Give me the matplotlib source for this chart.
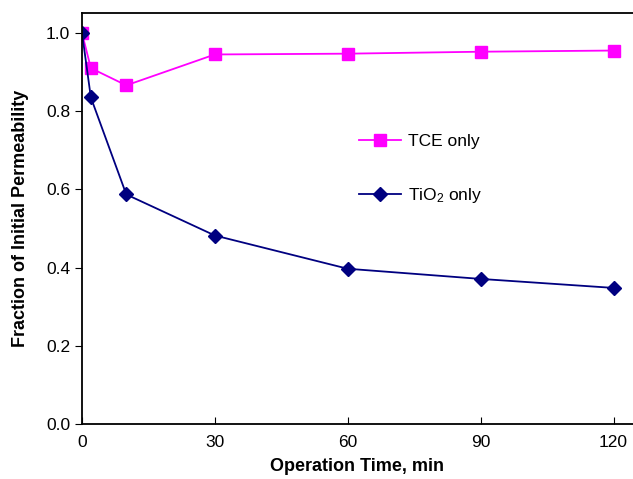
import matplotlib
matplotlib.use("Agg")
import matplotlib.pyplot as plt

plt.rcParams['font.family'] = ['Liberation Sans', 'DejaVu Sans']
plt.rcParams['mathtext.fontset'] = 'custom'
plt.rcParams['mathtext.rm'] = 'Liberation Sans'
plt.rcParams['mathtext.it'] = 'Liberation Sans'

# data
time_min = [0, 2, 10, 30, 60, 90, 120]
tce_only = [1.0, 0.91, 0.866, 0.945, 0.947, 0.952, 0.955]
tio2_only = [1.0, 0.835, 0.587, 0.482, 0.397, 0.371, 0.348]
xticks = [0, 30, 60, 90, 120]
yticks = [0.0, 0.2, 0.4, 0.6, 0.8, 1.0]

W, H = 633, 479
fig = plt.figure(figsize=(W / 100, H / 100), dpi=100)
ax = fig.add_axes([82 / W, (H - 424) / H, (W - 82) / W, (424 - 13) / H])

ax.plot(time_min, tce_only, color='#FF00FF', marker='s', markersize=8.5,
        linewidth=1.3, label='TCE only')
ax.plot(time_min, tio2_only, color='#000080', marker='D', markersize=7.5,
        linewidth=1.3, label='TiO$_2$ only')

ax.set_xlim(0, 124.4)
ax.set_ylim(0, 1.051)
ax.set_xticks(xticks)
ax.set_yticks(yticks)
ax.set_yticklabels([f'{v:.1f}' for v in yticks])
ax.tick_params(axis='x', direction='in', length=5, labelsize=12.5, pad=8)
ax.tick_params(axis='y', direction='out', length=5, labelsize=12.5)
ax.spines['right'].set_visible(False)
for s in ['left', 'bottom', 'top']:
    ax.spines[s].set_linewidth(1.3)

ax.set_xlabel('Operation Time, min', fontsize=13, fontweight='bold', labelpad=6)
ax.set_ylabel('Fraction of Initial Permeability', fontsize=13, fontweight='bold', labelpad=12)

ax.legend(frameon=False, loc='upper left', bbox_to_anchor=(0.475, 0.745),
          fontsize=12.5, handlelength=2.4, handletextpad=0.4, labelspacing=2.15)

fig.savefig('out.png', dpi=100)
